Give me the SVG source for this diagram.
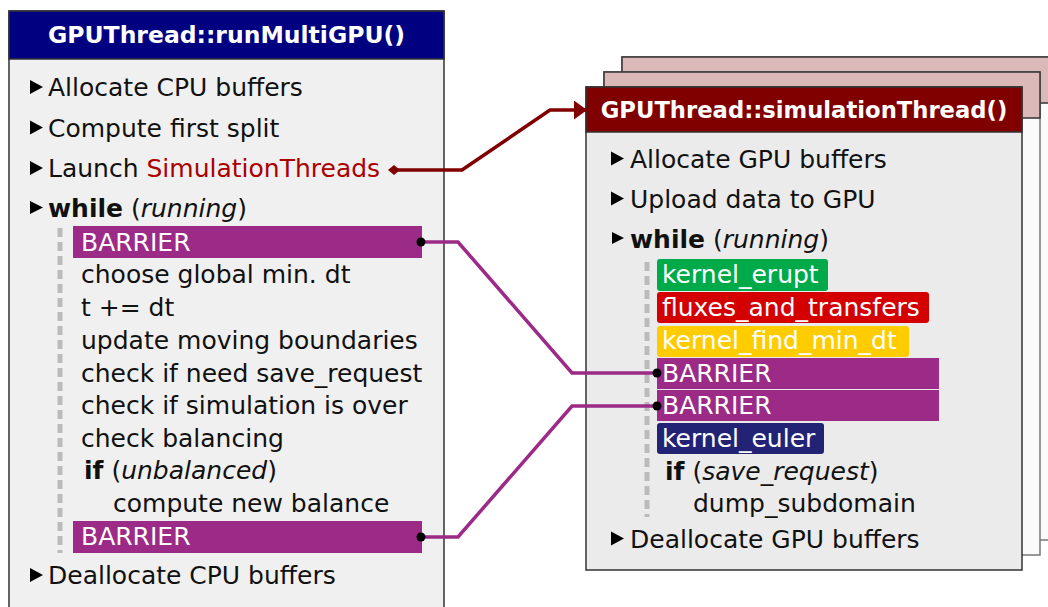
<svg xmlns="http://www.w3.org/2000/svg" width="1048" height="607" viewBox="0 0 1048 607">
<defs>
<style>
text{font-family:"DejaVu Sans","Liberation Sans",sans-serif;font-size:25px;fill:#111}
.title{font-size:23px;font-weight:bold;fill:#fff;text-anchor:middle}
.w{fill:#fff}
.b{font-weight:bold}
.i{font-style:italic}
.red{fill:#aa0000}
.tri{fill:#000}
.dash{stroke:#bbbbbb;stroke-width:5;stroke-dasharray:9,5;fill:none}
.bar{fill:#9c2a87}
.conP{fill:none;stroke:#9c2a87;stroke-width:3.5;stroke-linejoin:miter}
.conR{fill:none;stroke:#800000;stroke-width:3.5}
.dot{fill:#000}
</style>
<marker id="arr" viewBox="0 0 13 19" refX="13" refY="9.5" markerWidth="13" markerHeight="19" markerUnits="userSpaceOnUse" orient="auto">
<path d="M0,0 L13,9.5 L0,19 Z" fill="#800000"/>
</marker>
<marker id="dia" viewBox="0 0 12 10" refX="6" refY="5" markerWidth="12" markerHeight="10" markerUnits="userSpaceOnUse" orient="auto">
<path d="M0,5 L6,0 L12,5 L6,10 Z" fill="#800000"/>
</marker>
</defs>
<rect width="1048" height="607" fill="#fff"/>

<g id="simThread-stack">
<rect x="622" y="57" width="436" height="483" fill="#fafafa" stroke="#777" stroke-width="1.5"/>
<rect x="622" y="57" width="436" height="46" fill="#dcb9b9" stroke="#333" stroke-width="1.5"/>
<rect x="604" y="72" width="436" height="483" fill="#fafafa" stroke="#777" stroke-width="1.5"/>
<rect x="604" y="72" width="436" height="46" fill="#dcb9b9" stroke="#333" stroke-width="1.5"/>
</g>

<g id="simulationThread">
<rect x="586" y="87" width="436" height="483" fill="#ebebeb" stroke="#333" stroke-width="1.5"/>
<rect x="586" y="87" width="436" height="45" fill="#800000" stroke="#333" stroke-width="1.5"/>
<text class="title" x="804" y="118" style="font-size:22.7px">GPUThread::simulationThread()</text>
<polygon class="tri" points="611,151.5 611,165.5 624,158.5"/>
<text x="630" y="168">Allocate GPU buffers</text>
<polygon class="tri" points="611,191.5 611,205.5 624,198.5"/>
<text x="630" y="208">Upload data to GPU</text>
<polygon class="tri" points="612,232 612,244 624,238"/>
<text x="630" y="248"><tspan class="b">while</tspan> (<tspan class="i">running</tspan>)</text>
<line class="dash" x1="647" y1="262" x2="647" y2="517"/>
<rect x="657" y="259" width="171" height="32" rx="3" fill="#00aa48"/>
<text class="w" x="662" y="283">kernel_erupt</text>
<rect x="657" y="292" width="272" height="31" rx="3" fill="#d40000"/>
<text class="w" x="662" y="316">fluxes_and_transfers</text>
<rect x="657" y="326" width="252" height="31" rx="3" fill="#ffcc00"/>
<text class="w" x="662" y="349">kernel_find_min_dt</text>
<rect class="bar" x="657" y="358" width="282" height="31"/>
<text class="w" x="662" y="382">BARRIER</text>
<rect class="bar" x="657" y="390" width="282" height="31"/>
<text class="w" x="662" y="414">BARRIER</text>
<rect x="657" y="423" width="167" height="31" rx="3" fill="#232375"/>
<text class="w" x="662" y="447">kernel_euler</text>
<text x="665" y="480"><tspan class="b">if</tspan> (<tspan class="i">save_request</tspan>)</text>
<text x="693" y="512">dump_subdomain</text>
<polygon class="tri" points="611,531.5 611,545.5 624,538.5"/>
<text x="630" y="548">Deallocate GPU buffers</text>
</g>

<g id="runMultiGPU">
<rect x="9" y="11" width="435" height="610" fill="#f0f0f0" stroke="#333" stroke-width="1.5"/>
<rect x="9" y="11" width="435" height="48" fill="#000080" stroke="#333" stroke-width="1.5"/>
<text class="title" x="226.5" y="43" style="font-size:23.5px">GPUThread::runMultiGPU()</text>
<polygon class="tri" points="30,80 30,94 43,87"/>
<text x="48" y="96">Allocate CPU buffers</text>
<polygon class="tri" points="30,120.5 30,134.5 43,127.5"/>
<text x="48" y="136.5">Compute first split</text>
<polygon class="tri" points="30,161 30,175 43,168"/>
<text x="48" y="177">Launch <tspan class="red">SimulationThreads</tspan></text>
<polygon class="tri" points="30,201 30,214 43,207.5"/>
<text x="48" y="217"><tspan class="b">while</tspan> (<tspan class="i">running</tspan>)</text>
<line class="dash" x1="60" y1="228" x2="60" y2="553"/>
<rect class="bar" x="73" y="226" width="349" height="32"/>
<text class="w" x="81" y="251">BARRIER</text>
<text x="81" y="283">choose global min. dt</text>
<text x="81" y="316">t += dt</text>
<text x="81" y="349">update moving boundaries</text>
<text x="81" y="382">check if need save_request</text>
<text x="81" y="414">check if simulation is over</text>
<text x="81" y="447">check balancing</text>
<text x="84" y="479"><tspan class="b">if</tspan> (<tspan class="i">unbalanced</tspan>)</text>
<text x="113" y="512">compute new balance</text>
<rect class="bar" x="73" y="521" width="349" height="32"/>
<text class="w" x="81" y="545">BARRIER</text>
<polygon class="tri" points="30,568 30,582 43,575"/>
<text x="48" y="584">Deallocate CPU buffers</text>
</g>

<g id="connectors">
<path class="conR" d="M394,170 L462,170 L550,110 L587,110" marker-start="url(#dia)" marker-end="url(#arr)"/>
<path class="conP" d="M421,242 L458,242 L572,373 L657,373"/>
<path class="conP" d="M421,537 L458,537 L572,406 L657,406"/>
<circle class="dot" cx="421" cy="242" r="4.5"/>
<circle class="dot" cx="657" cy="373" r="4.5"/>
<circle class="dot" cx="421" cy="537" r="4.5"/>
<circle class="dot" cx="657" cy="406" r="4.5"/>
</g>
</svg>
